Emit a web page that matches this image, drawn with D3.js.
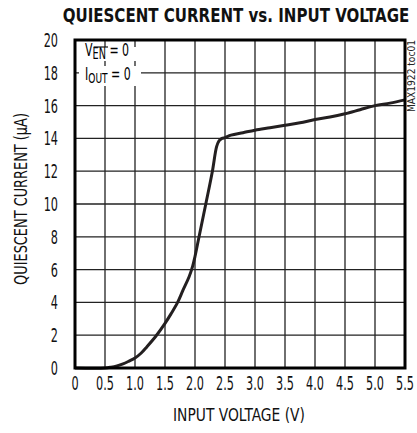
<!DOCTYPE html>
<html><head><meta charset="utf-8">
<script src="https://cdn.jsdelivr.net/npm/d3@7"></script>
<style>body{margin:0;background:#fff}svg{display:block}</style>
</head><body>
<script>
const titleText = "QUIESCENT CURRENT vs. INPUT VOLTAGE";
const xLabel = "INPUT VOLTAGE (V)";
const yLabel = "QUIESCENT CURRENT (\u00B5A)";
const sideLabel = "MAX1922 toc01";
const xTicks = [0,0.5,1.0,1.5,2.0,2.5,3.0,3.5,4.0,4.5,5.0,5.5];
const xTickLabels = ["0","0.5","1.0","1.5","2.0","2.5","3.0","3.5","4.0","4.5","5.0","5.5"];
const yTicks = [0,2,4,6,8,10,12,14,16,18,20];
const voltage = [0,0.5,0.6,0.7,0.8,0.9,1.0,1.1,1.2,1.35,1.5,1.6,1.71,1.8,1.9,1.96,2.0,2.07,2.18,2.29,2.36,2.4,2.45,2.5,2.6,2.8,3.0,3.25,3.5,3.75,4.0,4.25,4.5,4.75,5.0,5.25,5.5];
const current = [0,0,0.05,0.13,0.25,0.42,0.61,0.9,1.3,1.95,2.72,3.3,4.0,4.75,5.55,6.2,6.8,8.05,10.0,12.0,13.5,13.85,14.0,14.05,14.2,14.35,14.5,14.65,14.8,14.95,15.15,15.3,15.5,15.75,16.0,16.15,16.35];

const W=417,H=433;
const m={l:75,r:405,t:40,b:368};
const svg=d3.select("body").append("svg").attr("width",W).attr("height",H);
const x=d3.scaleLinear().domain([0,5.5]).range([m.l,m.r]);
const y=d3.scaleLinear().domain([0,20]).range([m.b,m.t]);
const font="'DejaVu Sans Condensed','Liberation Sans Narrow','DejaVu Sans',sans-serif";
const SX=0.66;

// fit a text to a target width by horizontal scaling
function fitText(parent, txt, cx, cy, width, size, weight, rot){
  const gg=parent.append("g");
  const t=gg.append("text").attr("font-family",font).attr("font-size",size)
    .attr("font-weight",weight||"normal").attr("text-anchor","middle").attr("fill","#111").text(txt);
  const w=t.node().getComputedTextLength();
  gg.attr("transform",`translate(${cx},${cy}) rotate(${rot||0}) scale(${width/w},1)`);
  return gg;
}

// title
fitText(svg,titleText,236,22,347,20,"bold",0);

// grid
const g=svg.append("g");
g.selectAll(".vx").data(xTicks.slice(1,-1)).join("line")
 .attr("x1",d=>x(d)).attr("x2",d=>x(d)).attr("y1",m.t).attr("y2",m.b)
 .attr("stroke","#222").attr("stroke-width",1.3);
g.selectAll(".hy").data(yTicks.slice(1,-1)).join("line")
 .attr("y1",d=>y(d)).attr("y2",d=>y(d)).attr("x1",m.l).attr("x2",m.r)
 .attr("stroke","#222").attr("stroke-width",1.3);

// legend knockouts
svg.append("rect").attr("x",79).attr("y",47).attr("width",60).attr("height",14).attr("fill","#fff");
svg.append("rect").attr("x",79).attr("y",66).attr("width",62).attr("height",20).attr("fill","#fff");
const lg=svg.append("g").attr("font-family",font).attr("font-size",17);
const l1=lg.append("g").attr("transform","translate(85,56) scale(0.72,1)");
const t1=l1.append("text");
t1.append("tspan").text("V");
t1.append("tspan").attr("font-size",15).attr("dy",3).text("EN");
t1.append("tspan").attr("dy",-3).text(" = 0");
l1.append("line").attr("x1",12).attr("x2",32).attr("y1",-9).attr("y2",-9).attr("stroke","#111").attr("stroke-width",1.2);
const l2=lg.append("g").attr("transform","translate(85,80) scale(0.72,1)");
const t2=l2.append("text");
t2.append("tspan").text("I");
t2.append("tspan").attr("font-size",14).attr("dy",3).text("OUT");
t2.append("tspan").attr("dy",-3).text(" = 0");

// curve
const line=d3.line().x((d,i)=>x(voltage[i])).y((d,i)=>y(current[i])).curve(d3.curveCatmullRom.alpha(0.5));
svg.append("path").datum(current).attr("d",line).attr("fill","none")
 .attr("stroke","#231f20").attr("stroke-width",3).attr("stroke-linejoin","round");

// frame
svg.append("rect").attr("x",m.l).attr("y",m.t).attr("width",m.r-m.l).attr("height",m.b-m.t)
 .attr("fill","none").attr("stroke","#000").attr("stroke-width",3);

// axes labels
const ax=svg.append("g").attr("font-family",font).attr("font-size",19).attr("fill","#111");
ax.selectAll(".xt").data(xTicks).join("text")
 .attr("transform",d=>`translate(${x(d)},390) scale(${SX},1)`).attr("text-anchor","middle").text((d,i)=>xTickLabels[i]);
ax.selectAll(".yt").data(yTicks).join("text")
 .attr("transform",d=>`translate(58,${y(d)+7}) scale(${SX},1)`).attr("text-anchor","end").text(d=>d);
fitText(svg,xLabel,239,421,132,18,"normal",0);
fitText(svg,yLabel,27,199,172,18,"normal",-90);
fitText(svg,sideLabel,415,76,72,10,"normal",-90).select("text").attr("fill","#222");
</script>
</body></html>
